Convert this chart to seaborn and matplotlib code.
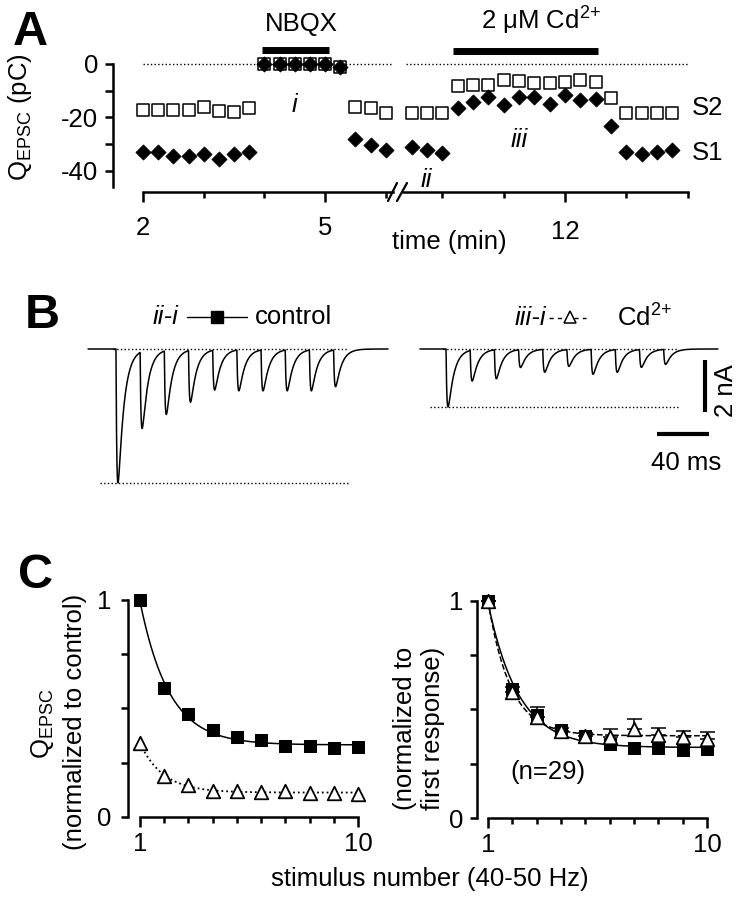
import numpy as np
import pandas as pd
import seaborn as sns
import matplotlib.pyplot as plt
from matplotlib.lines import Line2D

# ---- panel A: Q_EPSC (pC) of the two pathways, one sample every 15 s ----
time_early = [2.0, 2.25, 2.5, 2.75, 3.0, 3.25, 3.5, 3.75, 4.0, 4.25, 4.5,
              4.75, 5.0, 5.25, 5.5, 5.75, 6.0]
s2_early = [-17.2, -17.2, -17.2, -17.2, -16.0, -17.6, -17.9, -16.6,
            0.0, 0.0, 0.0, 0.0, 0.0, -1.0, -16.0, -16.5, -18.4]
s1_early = [-32.8, -32.8, -34.5, -34.5, -33.7, -35.7, -33.7, -32.8,
            0.0, 0.0, 0.0, 0.0, 0.0, -1.0, -28.2, -30.3, -32.2]

time_late = [9.5, 9.75, 10.0, 10.25, 10.5, 10.75, 11.0, 11.25, 11.5, 11.75,
             12.0, 12.25, 12.5, 12.75, 13.0, 13.25, 13.5, 13.75]
s2_late = [-18.4, -18.4, -18.4, -8.2, -7.9, -7.9, -6.0, -6.2, -7.0, -7.2,
           -6.6, -6.0, -6.6, -12.9, -18.5, -18.5, -18.5, -18.5]
s1_late = [-31.0, -32.2, -33.4, -16.6, -14.1, -12.2, -15.4, -12.2, -12.2,
           -15.0, -11.6, -13.5, -13.2, -23.2, -32.8, -33.7, -32.8, -32.2]

nbqx_period = [3.96, 5.06]
cd_period = [10.17, 12.54]

# ---- panel B: peak amplitude (nA) of each EPSC in the difference traces ----
peak_control = [5.15, 2.96, 2.46, 2.0, 1.54, 1.58, 1.58, 1.58, 1.58, 1.42]
peak_cd = [2.23, 1.19, 1.12, 0.69, 0.88, 0.65, 0.96, 0.88, 0.69, 0.58]
isi_ms = 18.6
first_peak_control = 29.2
first_peak_cd = 283.1
trace_control_span = [6.2, 237.0]
trace_cd_span = [261.5, 490.8]

# ---- panel C ----
stim_number = [1, 2, 3, 4, 5, 6, 7, 8, 9, 10]
control_vs_control = [1.0, 0.593, 0.473, 0.401, 0.370, 0.355, 0.329, 0.329, 0.317, 0.324]
cd_vs_control = [0.340, 0.189, 0.147, 0.121, 0.120, 0.114, 0.120, 0.112, 0.109, 0.106]
control_vs_first = [1.0, 0.593, 0.475, 0.403, 0.376, 0.341, 0.321, 0.321, 0.313, 0.316]
cd_vs_first = [1.0, 0.582, 0.467, 0.401, 0.378, 0.375, 0.409, 0.382, 0.372, 0.363]
cd_vs_first_err = [0.0, 0.02, 0.043, 0.015, 0.015, 0.034, 0.048, 0.031, 0.029, 0.031]

sns.set_style("ticks")
plt.rcParams['font.family'] = ['Liberation Sans', 'DejaVu Sans']
plt.rcParams['mathtext.fontset'] = 'custom'
plt.rcParams['mathtext.rm'] = 'Liberation Sans'
plt.rcParams['mathtext.it'] = 'Liberation Sans:italic'
plt.rcParams['font.size'] = 18.5
for key in ['text.color', 'axes.labelcolor', 'xtick.color', 'ytick.color', 'axes.edgecolor']:
    plt.rcParams[key] = 'black'

W, H = 743, 899
fig = plt.figure(figsize=(W / 100, H / 100), dpi=100)
FS = 18.5
LW = 1.8
CD_LABEL = 'Cd$^{\\mathrm{2{+}}}$'


def px_axes(x0, y0, x1, y1):
    return fig.add_axes([x0 / W, 1 - y1 / H, (x1 - x0) / W, (y1 - y0) / H])


def style_ticks(ax):
    ax.tick_params(which='major', direction='out', length=7.2, width=LW, labelsize=FS)
    ax.tick_params(which='minor', direction='out', length=4.3, width=LW)
    for s in ax.spines.values():
        s.set_linewidth(LW)


def exp_fit(n, y):
    n = np.asarray(n, float)
    y = np.asarray(y, float)
    best = None
    for tau in np.linspace(0.2, 4, 381):
        X = np.column_stack([np.ones_like(n), np.exp(-(n - 1) / tau)])
        coef = np.linalg.lstsq(X, y, rcond=None)[0]
        err = np.sum((X @ coef - y) ** 2)
        if best is None or err < best[0]:
            best = (err, tau, coef)
    xs = np.linspace(1, 10, 200)
    return xs, best[2][0] + best[2][1] * np.exp(-(xs - 1) / best[1])


# ================= panel A =================
axA1 = px_axes(113, 58.65, 398, 187)
axA2 = px_axes(398, 58.65, 700, 187)
early = pd.DataFrame({'t': time_early, 'S2': s2_early, 'S1': s1_early})
late = pd.DataFrame({'t': time_late, 'S2': s2_late, 'S1': s1_late})

for ax, df in [(axA1, early), (axA2, late)]:
    sns.scatterplot(data=df, x='t', y='S2', ax=ax, marker='s', s=72,
                    facecolor='white', edgecolor='black', linewidth=1.1, zorder=3)
    sns.scatterplot(data=df, x='t', y='S1', ax=ax, marker='D', s=60,
                    color='black', edgecolor='black', linewidth=0.5, zorder=4)
    ax.set_ylim(-46, 2)
    ax.set_xlabel('')
    ax.set_ylabel('')
    for c in ax.collections:
        c.set_clip_on(False)
    style_ticks(ax)
    ax.spines['top'].set_visible(False)
    ax.spines['right'].set_visible(False)
    ax.spines['bottom'].set_position(('outward', 3.6))
    ax.patch.set_alpha(0)

axA1.set_xlim(1.506, 6.2)
axA2.set_xlim(9.276, 14.2)
axA1.spines['left'].set_bounds(-46, 0)
axA1.spines['bottom'].set_bounds(2, 6.12)
axA2.spines['bottom'].set_bounds(9.36, 14)
axA2.spines['left'].set_visible(False)
axA2.tick_params(axis='y', which='both', left=False, labelleft=False)
axA1.set_yticks([0, -20, -40])
axA1.set_yticklabels(['0', '-20', '-40'])
axA1.set_yticks([-10, -30], minor=True)
axA1.tick_params(axis='y', which='both', length=6, pad=4.5)
axA1.set_xticks([2, 5])
axA1.set_xticks([3, 4, 6], minor=True)
axA1.tick_params(axis='x', which='major', pad=10)
axA2.set_xticks([12])
axA2.set_xticks([10, 11, 13, 14], minor=True)
axA2.tick_params(axis='x', which='major', pad=13)

axA1.plot([2, 6.1], [0, 0], ls=':', color='black', lw=1)
axA2.plot([9.4, 14], [0, 0], ls=':', color='black', lw=1)
axA1.plot(nbqx_period, [5.2, 5.2], color='black', lw=5, solid_capstyle='butt', clip_on=False)
axA2.plot(cd_period, [5.0, 5.0], color='black', lw=5, solid_capstyle='butt', clip_on=False)
axA1.text(4.6, 15, 'NBQX', ha='center', va='center', fontsize=FS, clip_on=False)
axA2.text(11.61, 16, '2 μM ' + CD_LABEL, ha='center', va='center', fontsize=FS, clip_on=False)
axA1.text(4.5, -15.5, 'i', ha='center', va='center', fontsize=FS, style='italic')
axA2.text(9.74, -43.5, 'ii', ha='center', va='center', fontsize=FS, style='italic', clip_on=False)
axA2.text(11.25, -28.5, 'iii', ha='center', va='center', fontsize=FS, style='italic')
fig.text(692 / W, 1 - 108 / H, 'S2', ha='left', va='center', fontsize=FS)
fig.text(692 / W, 1 - 153 / H, 'S1', ha='left', va='center', fontsize=FS)
fig.text(20 / W, 1 - 117 / H, 'Q$_{\\mathrm{EPSC}}$ (pC)', rotation=90,
         ha='center', va='center', fontsize=FS)
fig.text(449 / W, 1 - 242 / H, 'time (min)', ha='center', va='center', fontsize=FS)
for xs_, ys_ in [([388, 397], [201, 183]), ([397, 407], [201, 183])]:
    fig.add_artist(Line2D([x / W for x in xs_], [1 - y / H for y in ys_],
                          color='black', lw=1.6, transform=fig.transFigure))
fig.text(13 / W, 1 - 45 / H, 'A', fontsize=35, fontweight='bold', va='baseline')

# ================= panel B =================
axB = px_axes(80, 300, 730, 500)
axB.set_xlim(0, 500)
axB.set_ylim(-5.81, 1.885)
axB.axis('off')


def epsc_trace(span, first_peak, peaks):
    t = np.arange(span[0], span[1], 0.05)
    tr, td = 0.7, 4.5
    tp = tr * td / (td - tr) * np.log(td / tr)
    norm = np.exp(-tp / td) - np.exp(-tp / tr)
    i = np.zeros_like(t)
    for k, a in enumerate(peaks):
        s = t - (first_peak + k * isi_ms - tp)
        s = np.clip(s, 0, None)
        i -= a * (np.exp(-s / td) - np.exp(-s / tr)) / norm
    return pd.DataFrame({'ms': t, 'nA': i})


for span, fp, pk in [(trace_control_span, first_peak_control, peak_control),
                     (trace_cd_span, first_peak_cd, peak_cd)]:
    tr_df = epsc_trace(span, fp, pk)
    sns.lineplot(data=tr_df, x='ms', y='nA', ax=axB, color='black', lw=1.1,
                 estimator=None, sort=False)
    end = fp + 9.5 * isi_ms
    axB.plot([fp - 4, end], [0, 0], ls=':', color='black', lw=1)
    axB.plot([fp - 14, end], [-pk[0], -pk[0]], ls=':', color='black', lw=1)

axB.plot([480.8, 480.8], [-0.42, -2.42], color='black', lw=3, solid_capstyle='butt')
axB.plot([443.8, 483.8], [-3.27, -3.27], color='black', lw=3, solid_capstyle='butt')
axB.text(497, -1.6, '2 nA', rotation=90, ha='center', va='center', fontsize=FS)
axB.text(466, -4.38, '40 ms', ha='center', va='center', fontsize=FS)

axB.text(75.4, 1.23, 'ii-i', ha='right', va='center', fontsize=FS, style='italic')
axB.plot([82.3, 128.5], [1.23, 1.23], color='black', lw=1)
axB.plot([105.4], [1.23], marker='s', ms=9, color='black')
axB.text(134.6, 1.23, 'control', ha='left', va='center', fontsize=FS)
axB.text(359, 1.2, 'iii-i', ha='right', va='center', fontsize=FS, style='italic')
axB.plot([361, 389], [1.2, 1.2], color='black', lw=1, dashes=(3, 3))
axB.plot([377], [1.22], marker='^', ms=9, mfc='white', mec='black', mew=1.1)
axB.text(413, 1.2, CD_LABEL, ha='left', va='center', fontsize=FS)
fig.text(25 / W, 1 - 328 / H, 'B', fontsize=35, fontweight='bold', va='baseline')

# ================= panel C =================
axC1 = px_axes(128, 589, 365, 817)
axC2 = px_axes(477, 590, 714, 818)
axC1.set_xlim(1 - 12 / 24.22, 1 + 225 / 24.22)
axC2.set_xlim(1 - 11 / 24.33, 1 + 226 / 24.33)

dfC1 = pd.DataFrame({'n': stim_number, 'ctrl': control_vs_control, 'cd': cd_vs_control})
dfC2 = pd.DataFrame({'n': stim_number, 'ctrl': control_vs_first, 'cd': cd_vs_first})

xs, ys = exp_fit(stim_number, control_vs_control)
sns.lineplot(x=xs, y=ys, ax=axC1, color='black', lw=1.1)
xs, ys = exp_fit(stim_number, cd_vs_control)
sns.lineplot(x=xs, y=ys, ax=axC1, color='black', lw=1.3, linestyle=':')
xs, ys = exp_fit(stim_number, control_vs_first)
sns.lineplot(x=xs, y=ys, ax=axC2, color='black', lw=1.1)
xs, ys = exp_fit(stim_number, cd_vs_first)
sns.lineplot(x=xs, y=ys, ax=axC2, color='black', lw=1.1, dashes=(4, 3), linestyle='--')

axC2.errorbar(stim_number, cd_vs_first,
              yerr=[np.zeros(len(cd_vs_first_err)), cd_vs_first_err],
              fmt='none', ecolor='black', elinewidth=1.1, capsize=5.4, capthick=1.1, zorder=2)

for ax, df in [(axC1, dfC1), (axC2, dfC2)]:
    sns.scatterplot(data=df, x='n', y='ctrl', ax=ax, marker='s', s=85,
                    color='black', edgecolor='black', zorder=3)
    sns.scatterplot(data=df, x='n', y='cd', ax=ax, marker='^', s=95,
                    facecolor='white', edgecolor='black', linewidth=1.3, zorder=4)
    for c in ax.collections:
        c.set_clip_on(False)
    ax.set_ylim(0, 1.05)
    ax.set_xlabel('')
    ax.set_ylabel('')
    style_ticks(ax)
    ax.spines['top'].set_visible(False)
    ax.spines['right'].set_visible(False)
    ax.spines['left'].set_bounds(0, 1)
    ax.spines['bottom'].set_bounds(1, 10)
    ax.set_yticks([0, 1])
    ax.set_yticklabels(['0', '1'])
    ax.set_yticks([0.25, 0.5, 0.75], minor=True)
    ax.tick_params(axis='y', which='both', length=5)
    ax.set_xticks([1, 10])
    ax.set_xticklabels(['1', '10'])
    ax.set_xticks([2, 3, 4, 5, 6, 7, 8, 9], minor=True)
    ax.tick_params(axis='x', which='major', length=7.2, pad=3.6)
    ax.patch.set_alpha(0)

axC1.tick_params(axis='y', which='major', pad=7)
axC2.tick_params(axis='y', which='major', pad=5)
axC2.text(3.47, 0.212, '(n=29)', ha='center', va='center', fontsize=FS)

fig.text(43 / W, 1 - 724 / H, 'Q$_{\\mathrm{EPSC}}$', rotation=90, ha='center', va='center', fontsize=FS)
fig.text(75 / W, 1 - 722 / H, '(normalized to control)', rotation=90, ha='center', va='center', fontsize=FS)
fig.text(419 / W, 1 - 728 / H, '(normalized to\nfirst response)', rotation=90,
         ha='center', va='center', fontsize=FS, multialignment='center', linespacing=1.2)
fig.text(430 / W, 1 - 879 / H, 'stimulus number (40-50 Hz)', ha='center', va='center', fontsize=FS)
fig.text(18 / W, 1 - 588 / H, 'C', fontsize=35, fontweight='bold', va='baseline')

fig.savefig('out.png', dpi=100)
